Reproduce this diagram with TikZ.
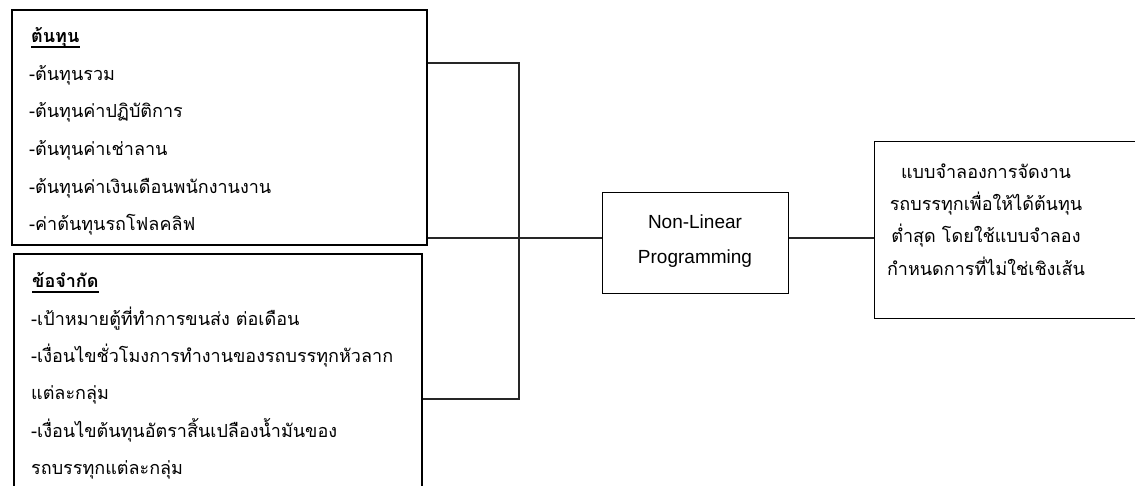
\documentclass[tikz,border=0pt]{standalone}
\usepackage{fontspec}
\setmainfont{Liberation Sans}
\newfontfamily\thai[Script=Thai]{Loma}
\begin{document}
\begin{tikzpicture}[x=1pt,y=-1pt,
  thtext/.style={font=\thai\fontsize{18}{20}\selectfont, inner sep=0pt, anchor=base west},
  thhead/.style={thtext, font=\thai\bfseries\fontsize{18}{20}\selectfont},
  thmid/.style={font=\thai\fontsize{18}{20}\selectfont, inner sep=0pt, anchor=base},
  entext/.style={font=\fontsize{19}{21}\selectfont, inner sep=0pt, anchor=base},
  boxA/.style={draw=black, line width=1.8pt, anchor=north west, inner sep=0pt},
  boxB/.style={draw=black, line width=2.2pt, anchor=north west, inner sep=0pt},
  boxC/.style={draw=black, line width=1.4pt, anchor=north west, inner sep=0pt},
  conn/.style={draw=black!85, line width=1.1pt},
  uline/.style={draw=black, line width=1.4pt}
]
\useasboundingbox (0,0) rectangle (1135,485);
\clip (0,0) rectangle (1135,485);
\fill[white] (0,0) rectangle (1135,485);

% boxes
\node[boxA, minimum width=415pt, minimum height=235pt] (cost) at (11,9) {};
\node[boxB, minimum width=408pt, minimum height=267pt] (cons) at (13,253) {};
\node[boxC, minimum width=186pt, minimum height=101pt] (nlp) at (602,192) {};
\node[boxC, minimum width=290pt, minimum height=177pt] (res) at (874,141) {};

% cost texts
\node[thhead] (c0) at (31,42.5) {ต้นทุน};
\draw[uline] ([yshift=-4.5pt]c0.base west) -- ([yshift=-4.5pt]c0.base east);
\node[thtext] (c1) at (29,80) {-ต้นทุนรวม};
\node[thtext] (c2) at (29,117.5) {-ต้นทุนค่าปฏิบัติการ};
\node[thtext] (c3) at (29,155) {-ต้นทุนค่าเช่าลาน};
\node[thtext] (c4) at (29,193) {-ต้นทุนค่าเงินเดือนพนักงานงาน};
\node[thtext] (c5) at (29,230.5) {-ค่าต้นทุนรถโฟลคลิฟ};

% constraint texts
\node[thhead] (k0) at (32,287.5) {ข้อจำกัด};
\draw[uline] ([yshift=-4.5pt]k0.base west) -- ([yshift=-4.5pt]k0.base east);
\node[thtext] (k1) at (31,325) {-เป้าหมายตู้ที่ทำการขนส่ง ต่อเดือน};
\node[thtext] (k2) at (31,362) {-เงื่อนไขชั่วโมงการทำงานของรถบรรทุกหัวลาก};
\node[thtext] (k3) at (31,399.5) {แต่ละกลุ่ม};
\node[thtext] (k4) at (31,437) {-เงื่อนไขต้นทุนอัตราสิ้นเปลืองน้ำมันของ};
\node[thtext] (k5) at (31,474.5) {รถบรรทุกแต่ละกลุ่ม};

% NLP texts
\node[entext] (n1) at (695,228) {Non-Linear};
\node[entext] (n2) at (695,263) {Programming};

% result texts
\node[thmid] (r1) at (986,178.5) {แบบจำลองการจัดงาน};
\node[thmid] (r2) at (986,210.5) {รถบรรทุกเพื่อให้ได้ต้นทุน};
\node[thmid] (r3) at (986,242.5) {ต่ำสุด โดยใช้แบบจำลอง};
\node[thmid] (r4) at (986,275.5) {กำหนดการที่ไม่ใช่เชิงเส้น};

% connectors
\coordinate (jt) at (519,63);
\coordinate (jb) at (519,399);
\coordinate (jm) at (519,238);
\draw[conn] (cost.east |- jt) -- (jt) -- (jb) -- (cons.east |- jb);
\draw[conn] (cost.east |- jm) -- (nlp.west |- jm);
\draw[conn] (nlp.east |- jm) -- (res.west |- jm);
\end{tikzpicture}
\end{document}
